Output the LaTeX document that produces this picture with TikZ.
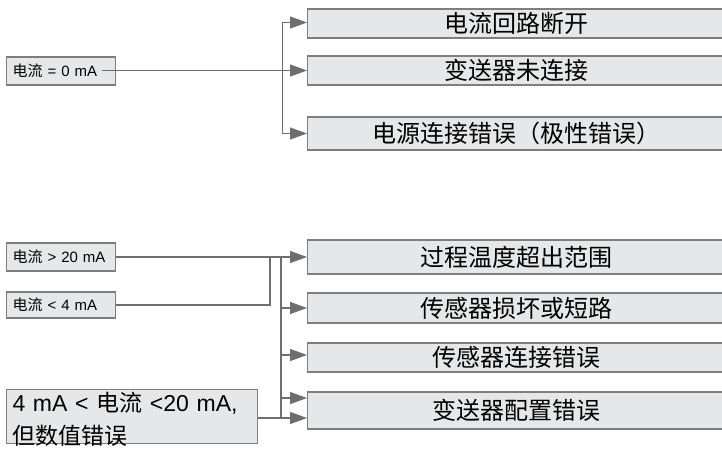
\documentclass[tikz,border=0pt]{standalone}
\usepackage{fontspec}
\setmainfont{Liberation Sans}
\newfontfamily\cjk{Noto Sans CJK SC}
\usetikzlibrary{arrows.meta}
\definecolor{boxfill}{HTML}{E6E7E8}
\definecolor{boxline}{HTML}{7D7E80}
\definecolor{conline}{HTML}{6D6E71}
\begin{document}
\begin{tikzpicture}[x=1pt,y=-1pt,
  box/.style={draw=boxline, fill=boxfill, line width=1.1pt, inner sep=0pt},
  conn/.style={draw=conline, line width=1.1pt},
  arr/.style={conn, -{Triangle[length=17pt,width=12pt]}},
  big/.style={font=\fontsize{24}{33}\selectfont},
  bigl/.style={font=\fontsize{23}{33}\selectfont},
  small/.style={font=\fontsize{15}{17}\selectfont},
  rbox/.style={box, big, anchor=west, minimum width=418pt},
  lbox/.style={box, small, anchor=west, minimum width=109pt, inner xsep=6pt, text width=97pt, align=left}
]
\useasboundingbox (0,0) rectangle (722,455);
\clip (0,0) rectangle (722,455);

% ---- top group ----
\node[lbox, minimum height=28pt] (l0) at (6,71) {{\cjk 电流} = 0 mA};
\coordinate (l0s) at (102,70.5);
\node[rbox, minimum height=29pt] (r1) at (307,23.5) {\cjk 电流回路断开};
\node[rbox, minimum height=29pt] (r2) at (307,70.5) {\cjk 变送器未连接};
\node[rbox, minimum height=33pt] (r3) at (307,133.5) {\cjk 电源连接错误（极性错误）};
\coordinate (j0) at (282.7,70.5);

\draw[arr] (l0s) -- (r2.west);
\draw[arr] (j0) |- ([yshift=1pt]r1.west);
\draw[arr] (j0) |- (r3.west);

% ---- bottom group ----
\node[lbox, minimum height=28pt] (la) at (6,257) {{\cjk 电流} > 20 mA};
\node[lbox, minimum height=26pt] (lb) at (6,305) {{\cjk 电流} < 4 mA};
\node[box, bigl, anchor=north west, align=left, inner xsep=6pt, inner ysep=2.5pt,
      text width=239pt, text depth=30pt] (lc) at (6,389)
      {4 mA < {\cjk 电流} <20 mA,\\{\cjk 但数值错误}};

\node[rbox, minimum height=34pt] (ra) at (307,257) {\cjk 过程温度超出范围};
\node[rbox, minimum height=30pt] (rb) at (307,308) {\cjk 传感器损坏或短路};
\node[rbox, minimum height=29pt] (rc) at (307,357.5) {\cjk 传感器连接错误};
\node[rbox, minimum height=37pt] (rd) at (307,410.5) {\cjk 变送器配置错误};

\coordinate (jb) at (270,257);
\coordinate (jt) at (281,257);
\coordinate (jd) at (281,418);
\coordinate (jd2) at (281,398);

\draw[arr] (la.east) -- (ra.west);
\draw[conn] (lb.east) -| (jb);
\draw[conn] (jt) -- (jd);
\draw[arr] (jt |- rb.west) -- (rb.west);
\draw[arr] (jt |- rc.west) ++(0,-2.5) -- ([yshift=2.5pt]rc.west);
\draw[arr] (jd2) -- (rd.west |- jd2);
\draw[arr] (lc.east |- jd) -- (rd.west |- jd);
\end{tikzpicture}
\end{document}
